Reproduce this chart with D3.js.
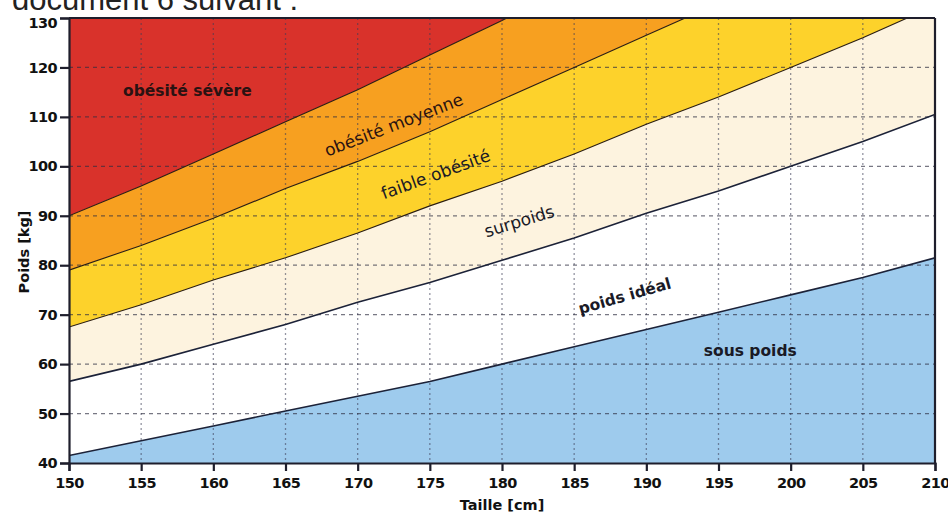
<!DOCTYPE html>
<html><head><meta charset="utf-8">
<script src="https://cdn.jsdelivr.net/npm/d3@7"></script>
<style>
html,body{margin:0;padding:0;background:#fff;}
svg{display:block;}
</style></head>
<body>
<svg id="chart" width="948" height="513"></svg>
<script>
// ---- data ----
const heights = [150,155,160,165,170,175,180,185,190,195,200,205,210];
const limSousPoids = [41.5,44.5,47.5,50.5,53.5,56.5,60,63.5,67,70.5,74,77.5,81.5];
const limPoidsIdeal = [56.5,60,64,68,72.5,76.5,81,85.5,90.5,95,100,105,110.5];
const limSurpoids = [67.5,72,77,81.5,86.5,92,97,102.5,108.5,114,120,126,132.5];
const limFaibleObesite = [79,84,89.5,95.5,101,107,113.5,120,126.5,133,140,147,154.5];
const limObesiteMoyenne = [90,96,102.5,109,115.5,122.5,129.5,137,144.5,152,160,168,176.5];
const xTicks = [150,155,160,165,170,175,180,185,190,195,200,205,210];
const yTicks = [40,50,60,70,80,90,100,110,120,130];
const zoneNames = ["sous poids","poids idéal","surpoids","faible obésité","obésité moyenne","obésité sévère"];
const zoneColors = ["#9ecbed","#ffffff","#fdf3df","#fdd22b","#f7a020","#d9322b"];
// label anchor points (height cm, weight kg) and rotation
const labelX = [197.2,188.5,181.2,175.4,172.5,158.2];
const labelY = [62.8,73.8,88.9,98.4,108.4,115.4];
const labelAngle = [0,-16,-17,-20,-21,0];
const labelBold = [true,true,false,false,false,true];

const svg = d3.select("#chart");
const M = {left:69, right:935, top:18, bottom:463};
const x = d3.scaleLinear().domain([150,210]).range([M.left,M.right]);
const y = d3.scaleLinear().domain([40,130]).range([M.bottom,M.top]);

// cropped heading text
svg.append("text").attr("x",12).attr("y",10)
  .attr("font-family","Liberation Sans, Arial, sans-serif").attr("font-size",31)
  .attr("fill","#222").text("document 6 suivant :");

svg.append("defs").append("clipPath").attr("id","plotclip")
  .append("rect").attr("x",M.left).attr("y",M.top)
  .attr("width",M.right-M.left).attr("height",M.bottom-M.top);

const g = svg.append("g").attr("clip-path","url(#plotclip)");

const lows = [null, limSousPoids, limPoidsIdeal, limSurpoids, limFaibleObesite, limObesiteMoyenne];
const highs = [limSousPoids, limPoidsIdeal, limSurpoids, limFaibleObesite, limObesiteMoyenne, null];
const dMin = y.domain()[0], dMax = y.domain()[1];

zoneNames.forEach((n,i)=>{
  const area = d3.area()
    .x((d,j)=>x(heights[j]))
    .y0((d,j)=> y(lows[i] ? lows[i][j] : dMin))
    .y1((d,j)=> y(highs[i] ? highs[i][j] : dMax + 60));
  g.append("path").datum(heights).attr("d",area).attr("fill",zoneColors[i]);
});

// grid
const gridV = xTicks.slice(1,-1), gridH = yTicks.slice(1,-1);
g.selectAll(".gv").data(gridV).join("line")
  .attr("x1",d=>x(d)).attr("x2",d=>x(d)).attr("y1",M.top).attr("y2",M.bottom)
  .attr("stroke","#3a3d55").attr("stroke-opacity",0.55).attr("stroke-width",1.3)
  .attr("stroke-dasharray","2,3");
g.selectAll(".gh").data(gridH).join("line")
  .attr("x1",M.left).attr("x2",M.right).attr("y1",d=>y(d)).attr("y2",d=>y(d))
  .attr("stroke","#2e2e40").attr("stroke-opacity",0.65).attr("stroke-width",1.3)
  .attr("stroke-dasharray","4,4");

// boundary lines
const line = arr => d3.line().x((d,j)=>x(heights[j])).y((d,j)=>y(arr[j]))(heights);
[limSousPoids, limPoidsIdeal, limSurpoids, limFaibleObesite, limObesiteMoyenne].forEach((arr,i)=>{
  g.append("path").attr("d",line(arr)).attr("fill","none")
   .attr("stroke", i<2 ? "#1c2238" : "#2a1d12").attr("stroke-width", i<2 ? 1.6 : 1.1);
});

// zone labels
zoneNames.forEach((n,i)=>{
  const px = x(labelX[i]), py = y(labelY[i]);
  svg.append("text")
    .attr("transform",`translate(${px},${py}) rotate(${labelAngle[i]})`)
    .attr("text-anchor","middle").attr("dy","0.35em")
    .attr("font-family","DejaVu Sans, sans-serif")
    .attr("font-size", labelBold[i] ? 15.5 : 17)
    .attr("font-weight", labelBold[i] ? "bold" : "normal")
    .attr("fill", i>=4 ? "#2a1212" : "#1a1a26")
    .text(n);
});

// axes
const font = "DejaVu Sans, sans-serif";
const xAxis = svg.append("g").attr("transform",`translate(0,${M.bottom})`)
  .call(d3.axisBottom(x).tickValues(xTicks).tickSize(8).tickPadding(4).tickFormat(d3.format("d")));
const yAxis = svg.append("g").attr("transform",`translate(${M.left},0)`)
  .call(d3.axisLeft(y).tickValues(yTicks).tickSize(9).tickPadding(3).tickFormat(d3.format("d")));
[xAxis,yAxis].forEach(a=>{
  a.select(".domain").attr("stroke","#1e1e2c").attr("stroke-width",2.2);
  a.selectAll(".tick line").attr("stroke","#1e1e2c").attr("stroke-width",2.2);
  a.selectAll(".tick text").attr("font-family",font).attr("font-size",14.5)
    .attr("font-weight","bold").attr("fill","#111").attr("letter-spacing","-0.6");
});
xAxis.selectAll(".tick text").attr("dy","0.9em");
// top label sits slightly lower, below the cropped heading
yAxis.selectAll(".tick").filter(d=>d===130).select("text").attr("dy","0.62em");
// top and right frame
svg.append("line").attr("x1",M.left).attr("x2",M.right).attr("y1",M.top).attr("y2",M.top)
  .attr("stroke","#1e1e2c").attr("stroke-width",2.2);
svg.append("line").attr("x1",M.right).attr("x2",M.right).attr("y1",M.top).attr("y2",M.bottom)
  .attr("stroke","#1e1e2c").attr("stroke-width",2.2);

// axis titles
svg.append("text").attr("x",(M.left+M.right)/2).attr("y",510)
  .attr("text-anchor","middle").attr("font-family",font).attr("font-size",14.5)
  .attr("font-weight","bold").attr("fill","#111").text("Taille [cm]");
svg.append("text").attr("transform",`translate(29,252) rotate(-90)`)
  .attr("text-anchor","middle").attr("font-family",font).attr("font-size",14.5)
  .attr("font-weight","bold").attr("fill","#111").text("Poids [kg]");
</script>
</body></html>
